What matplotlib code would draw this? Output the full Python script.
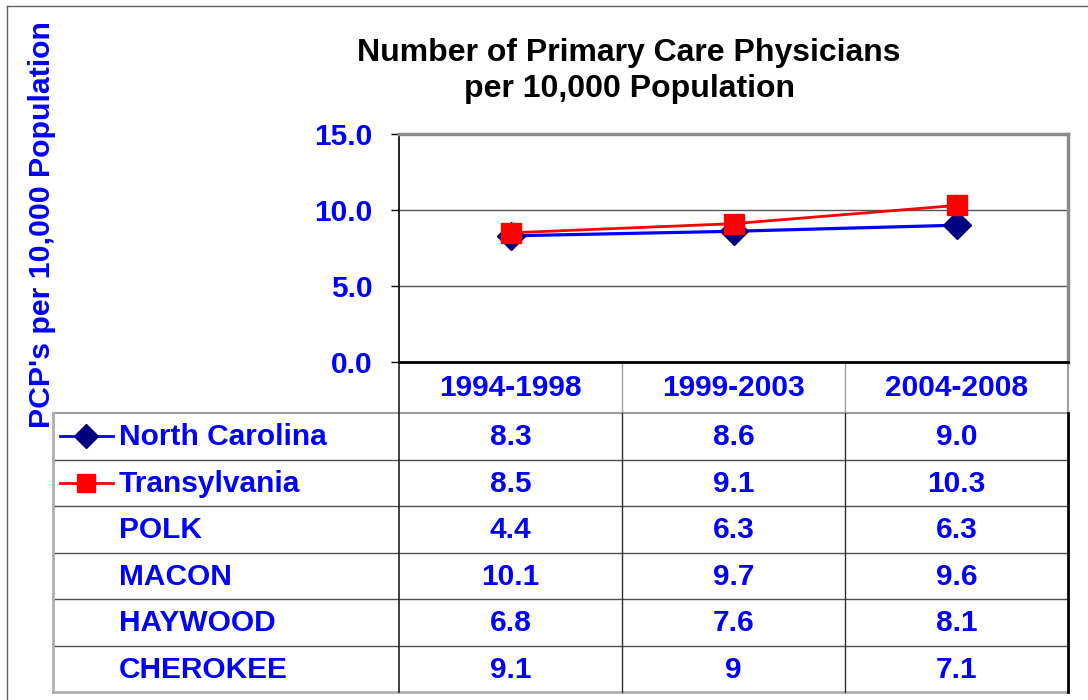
import matplotlib
matplotlib.use("Agg")
import matplotlib.pyplot as plt
from matplotlib import transforms
from matplotlib.lines import Line2D

plt.rcParams['font.family'] = ['Liberation Sans', 'DejaVu Sans']
plt.rcParams['font.weight'] = 'bold'

# ---------------- data ----------------
periods = ["1994-1998", "1999-2003", "2004-2008"]
row_names = ["North Carolina", "Transylvania", "POLK", "MACON", "HAYWOOD", "CHEROKEE"]
north_carolina = [8.3, 8.6, 9.0]
transylvania = [8.5, 9.1, 10.3]
polk = [4.4, 6.3, 6.3]
macon = [10.1, 9.7, 9.6]
haywood = [6.8, 7.6, 8.1]
cherokee = [9.1, 9, 7.1]
row_labels_text = [
    ["8.3", "8.6", "9.0"],
    ["8.5", "9.1", "10.3"],
    ["4.4", "6.3", "6.3"],
    ["10.1", "9.7", "9.6"],
    ["6.8", "7.6", "8.1"],
    ["9.1", "9", "7.1"],
]
y_ticks = [0, 5, 10, 15]

title = "Number of Primary Care Physicians\nper 10,000 Population"
ylabel = "PCP's per 10,000 Population"

BLUE = "#0000FF"
FS = 21.5
W, H = 1088, 700
fig = plt.figure(figsize=(W / 100, H / 100), dpi=100)

def fx(x):
    return x / W

def fy(y):
    return 1 - y / H

# pixel layout
PL, PR, PT, PB = 399, 1068, 134, 362
TL, TB = 53, 692
HEAD_B = 413

# overlay axes in pixel coordinates
ov = fig.add_axes([0, 0, 1, 1])
ov.set_xlim(0, W)
ov.set_ylim(H, 0)
ov.axis("off")

# main plot
ax = fig.add_axes([fx(PL), fy(PB), fx(PR - PL), (PB - PT) / H])
x = list(range(len(periods)))
ax.plot(x, north_carolina, color=BLUE, lw=2.3, marker="D", ms=14,
        mfc="#000080", mec="#000080", zorder=3)
ax.plot(x, transylvania, color="#FF0000", lw=2.0, marker="s", ms=14,
        mfc="#FF0000", mec="#FF0000", zorder=4)
ax.set_xlim(-0.5, len(periods) - 0.5)
ax.set_ylim(0, 15)
ax.set_yticks(y_ticks)
ax.set_yticklabels([f"{v:.1f}" for v in y_ticks])
ax.tick_params(axis="y", labelsize=FS, labelcolor=BLUE, direction="out",
               length=6, width=1, color="black", pad=13)
for lab in ax.get_yticklabels():
    lab.set_fontweight("bold")
ax.set_xticks([])
ax.grid(axis="y", color="#555555", lw=1)
ax.set_axisbelow(True)
ax.spines["left"].set_color("black")
ax.spines["left"].set_linewidth(1.2)
ax.spines["bottom"].set_color("black")
ax.spines["bottom"].set_linewidth(2)
for s in ("top", "right"):
    ax.spines[s].set_color("#8a8a8a")
    ax.spines[s].set_linewidth(2.5)

# title and y label
fig.text(fx(629), fy(71), title, ha="center", va="center", fontsize=23,
         fontweight="bold", color="black", linespacing=1.27)
fig.text(fx(42), fy(225), ylabel, ha="center", va="center", rotation=90,
         fontsize=FS + 0.3, fontweight="bold", color=BLUE)

# outer border (left and top visible)
ov.add_line(Line2D([7, 7], [6, H], color="#606060", lw=1))
ov.add_line(Line2D([7, W], [6, 6], color="#606060", lw=1))

# ---------------- data table ----------------
n_rows = len(row_names)
row_h = (TB - HEAD_B) / n_rows
row_edges = [HEAD_B + i * row_h for i in range(n_rows + 1)]
col_w = (PR - PL) / len(periods)
col_edges = [PL + i * col_w for i in range(len(periods) + 1)]

# mixed transform: x in category units of plot, y in pixels
mix = transforms.blended_transform_factory(ax.transData, ov.transData)

# header
for i, p in enumerate(periods):
    ov.text(i, (PB + HEAD_B) / 2 + 1, p, transform=mix, ha="center",
            va="center", fontsize=FS, fontweight="bold", color=BLUE)

# cells
for r in range(n_rows):
    yc = (row_edges[r] + row_edges[r + 1]) / 2 + 1
    ov.text(119, yc, row_names[r], ha="left", va="center", fontsize=FS,
            fontweight="bold", color=BLUE)
    for c in range(len(periods)):
        ov.text(c, yc, row_labels_text[r][c], transform=mix, ha="center",
                va="center", fontsize=FS, fontweight="bold", color=BLUE)

# legend keys
yc0 = (row_edges[0] + row_edges[1]) / 2
yc1 = (row_edges[1] + row_edges[2]) / 2
ov.add_line(Line2D([60, 113], [yc0, yc0], color=BLUE, lw=2))
ov.add_line(Line2D([86], [yc0], marker="D", ms=12, mfc="#000080",
                   mec="#000080", lw=0))
ov.add_line(Line2D([60, 113], [yc1, yc1], color="#FF0000", lw=2))
ov.add_line(Line2D([86], [yc1], marker="s", ms=12.5, mfc="#FF0000",
                   mec="#FF0000", lw=0))

# table lines
for ye in row_edges[1:-1]:
    ov.add_line(Line2D([TL, PR], [ye, ye], color="#505050", lw=1))
ov.add_line(Line2D([TL, PR], [HEAD_B, HEAD_B], color="#a0a0a0", lw=1.5))
ov.add_line(Line2D([TL, PR], [TB, TB], color="#b0b0b0", lw=2))
ov.add_line(Line2D([TL, TL], [HEAD_B, TB], color="#b0b0b0", lw=2))
ov.add_line(Line2D([PL, PL], [PB, TB], color="#202020", lw=1.2))
for xe in col_edges[1:-1]:
    ov.add_line(Line2D([xe, xe], [PB, HEAD_B], color="#a0a0a0", lw=1))
    ov.add_line(Line2D([xe, xe], [HEAD_B, TB], color="#303030", lw=1))
ov.add_line(Line2D([PR, PR], [PB, HEAD_B], color="#a0a0a0", lw=1.5))
ov.add_line(Line2D([PR, PR], [HEAD_B, TB], color="black", lw=2))

fig.savefig("out.png", dpi=100)
